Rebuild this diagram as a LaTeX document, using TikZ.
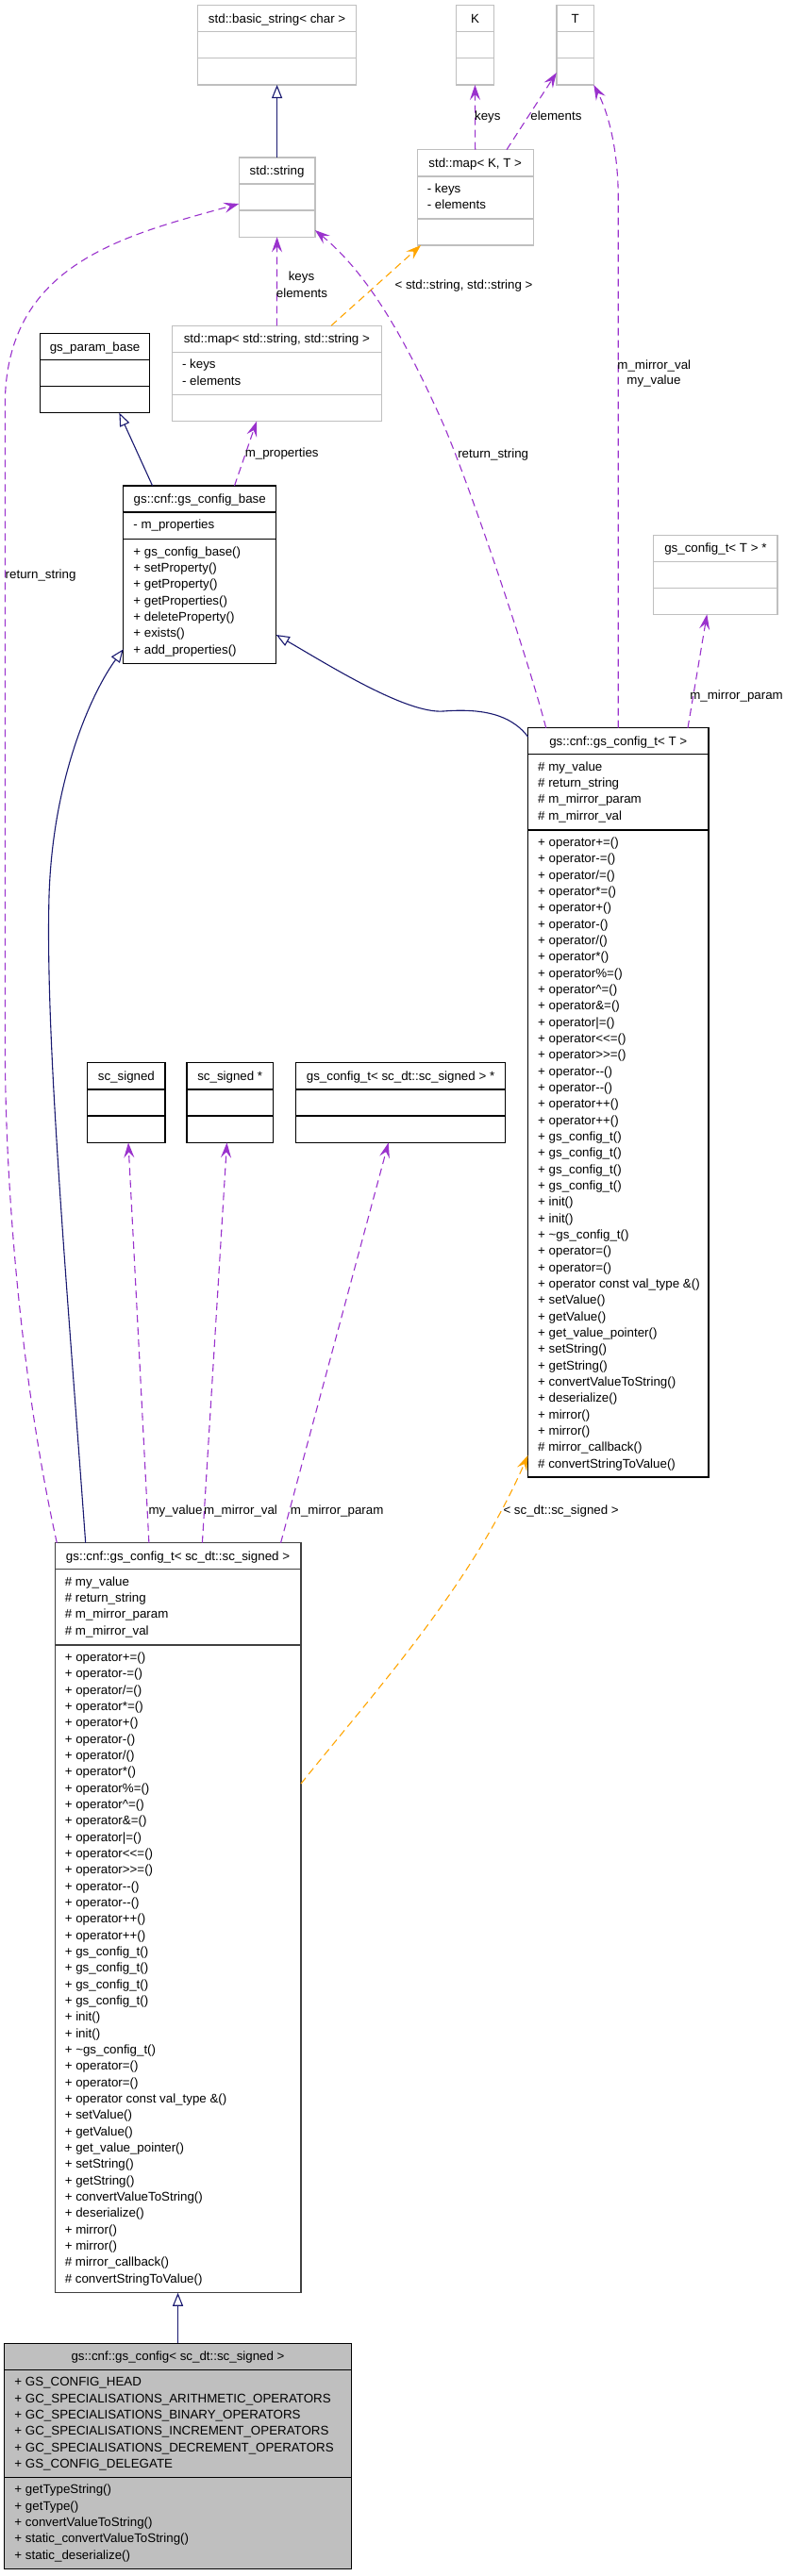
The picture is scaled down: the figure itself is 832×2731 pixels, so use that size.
\documentclass[tikz,border=0pt]{standalone}
\usepackage{fontspec}
\setmainfont{Liberation Sans}
\usetikzlibrary{arrows.meta}
\definecolor{g75}{HTML}{BFBFBF}
\definecolor{navy}{HTML}{191970}
\definecolor{orch}{HTML}{9A32CD}
\definecolor{org}{HTML}{FFA500}
\definecolor{dgray}{HTML}{404040}
\newcommand\rows[4]{\foreach \t [count=\i from 0] in #4 {\node[txt] (#1\i) at (#2,{#3+\i*17.33+4.6}) {\t};}}
\newcommand\divs[4]{\foreach \yy in {#4} {\draw[#1, line width=1.2pt] (#2,\yy) -- ++(#3,0);}}
\def\opsl{{+ operator+=()},{+ operator-=()},{+ operator/=()},{+ operator*=()},{+ operator+()},{+ operator-()},{+ operator/()},{+ operator*()},{+ operator\%=()},{+ operator\textasciicircum=()},{+ operator\&=()},{+ operator|=()},{+ operator<{}<=()},{+ operator>{}>=()},{+ operator-{}-()},{+ operator-{}-()},{+ operator++()},{+ operator++()},{+ gs\_config\_t()},{+ gs\_config\_t()},{+ gs\_config\_t()},{+ gs\_config\_t()},{+ init()},{+ init()},{+ \textasciitilde gs\_config\_t()},{+ operator=()},{+ operator=()},{+ operator const val\_type \&()},{+ setValue()},{+ getValue()},{+ get\_value\_pointer()},{+ setString()},{+ getString()},{+ convertValueToString()},{+ deserialize()},{+ mirror()},{+ mirror()},{\# mirror\_callback()},{\# convertStringToValue()}}
\def\gattr{{\# my\_value},{\# return\_string},{\# m\_mirror\_param},{\# m\_mirror\_val}}
\def\cbm{{+ gs\_config\_base()},{+ setProperty()},{+ getProperty()},{+ getProperties()},{+ deleteProperty()},{+ exists()},{+ add\_properties()}}
\def\cba{{- m\_properties}}
\def\gcsa{{+ GS\_CONFIG\_HEAD},{+ GC\_SPECIALISATIONS\_ARITHMETIC\_OPERATORS},{+ GC\_SPECIALISATIONS\_BINARY\_OPERATORS},{+ GC\_SPECIALISATIONS\_INCREMENT\_OPERATORS},{+ GC\_SPECIALISATIONS\_DECREMENT\_OPERATORS},{+ GS\_CONFIG\_DELEGATE}}
\def\gcsm{{+ getTypeString()},{+ getType()},{+ convertValueToString()},{+ static\_convertValueToString()},{+ static\_deserialize()}}
\def\mapa{{- keys},{- elements}}
\begin{document}
\begin{tikzpicture}[x=1pt,y=-1pt,
 font=\fontsize{13.33}{16}\selectfont,
 box/.style={draw, line width=1.2pt, anchor=north west, inner sep=0pt, outer sep=0pt, fill=white},
 boxg/.style={box, draw=g75},
 boxb/.style={box, draw=black},
 boxd/.style={box, draw=dgray},
 boxs/.style={box, draw=black, fill=g75},
 txt/.style={anchor=base west, inner sep=0pt},
 ttl/.style={anchor=base, inner sep=0pt},
 lbl/.style={anchor=base, inner sep=0pt},
 lblw/.style={anchor=base west, inner sep=0pt},
 inh/.style={draw=navy, line width=1.1pt, -{Triangle[open, length=14pt, width=11pt, line width=1.1pt]}},
 use/.style={draw=orch, line width=1.1pt, dash pattern=on 8pt off 5pt, -{Stealth[length=16pt, width=11pt, inset=6pt]}},
 tmpl/.style={draw=org, line width=1.1pt, dash pattern=on 8pt off 5pt, -{Stealth[length=16pt, width=11pt, inset=6pt]}}
]
\useasboundingbox[fill=white] (0,0) rectangle (832,2731);

% boxes
\node[boxg, minimum width=168pt, minimum height=84.3pt] (bstr) at (209.6,5.7) {};
\divs{g75}{209.6}{168}{33.7,61.7}
\node[ttl] (bstrT) at (293.6,24.3) {std::basic\_string< char >};

\node[boxg, minimum width=39.5pt, minimum height=84.3pt] (K) at (483.7,5.7) {};
\divs{g75}{483.7}{39.5}{33.7,61.7}
\node[ttl] (KT) at (503.45,24.3) {K};

\node[boxg, minimum width=39.4pt, minimum height=84.3pt] (T) at (589.9,5.7) {};
\divs{g75}{589.9}{39.4}{33.7,61.7}
\node[ttl] (TT) at (609.6,24.3) {T};

\node[boxg, minimum width=80.6pt, minimum height=84.3pt] (str) at (253.3,167) {};
\divs{g75}{253.3}{80.6}{195,223}
\node[ttl] (strT) at (293.6,185.6) {std::string};

\node[boxg, minimum width=123.2pt, minimum height=101.3pt] (mapKT) at (442.1,158.7) {};
\divs{g75}{442.1}{123.2}{187,232}
\node[ttl] (mapKTT) at (503.7,177.45) {std::map< K, T >};
\rows{mapKTa}{452.6}{200}{\mapa}

\node[boxg, minimum width=221.9pt, minimum height=101.4pt] (mapSS) at (182.4,345.3) {};
\divs{g75}{182.4}{221.9}{373.3,418.3}
\node[ttl] (mapSST) at (293.35,363.9) {std::map< std::string, std::string >};
\rows{mapSSa}{192.9}{386.3}{\mapa}

\node[boxb, minimum width=115.7pt, minimum height=84pt] (parambase) at (42.7,353.7) {};
\divs{black}{42.7}{115.7}{381.7,409.7}
\node[ttl] (parambaseT) at (100.55,372.3) {gs\_param\_base};

\node[boxb, minimum width=162.1pt, minimum height=188.3pt] (cbase) at (130.7,515) {};
\divs{black}{130.7}{162.1}{543,571.5}
\node[ttl] (cbaseT) at (211.75,533.6) {gs::cnf::gs\_config\_base};
\rows{cbasea}{141.2}{556}{\cba}
\rows{cbasem}{141.2}{584.5}{\cbm}

\node[boxg, minimum width=131.2pt, minimum height=84pt] (gctTp) at (692.8,567.3) {};
\divs{g75}{692.8}{131.2}{595.3,623.3}
\node[ttl] (gctTpT) at (758.4,585.9) {gs\_config\_t< T > *};

\node[boxb, minimum width=191.5pt, minimum height=794.3pt] (gctT) at (559.5,771.7) {};
\divs{black}{559.5}{191.5}{799.7,880}
\node[ttl] (gctTT) at (655.25,790.3) {gs::cnf::gs\_config\_t< T >};
\rows{gctTa}{570}{812.7}{\gattr}
\rows{gctTm}{570}{893}{\opsl}

\node[boxb, minimum width=82.2pt, minimum height=84.6pt] (scs) at (92.8,1126.8) {};
\divs{black}{92.8}{82.2}{1155,1183}
\node[ttl] (scsT) at (133.9,1145.6) {sc\_signed};

\node[boxb, minimum width=91.7pt, minimum height=84.6pt] (scsp) at (197.9,1126.8) {};
\divs{black}{197.9}{91.7}{1155,1183}
\node[ttl] (scspT) at (243.75,1145.6) {sc\_signed *};

\node[boxb, minimum width=221.9pt, minimum height=84.6pt] (gctsp) at (313.6,1126.8) {};
\divs{black}{313.6}{221.9}{1155,1183}
\node[ttl] (gctspT) at (424.55,1145.6) {gs\_config\_t< sc\_dt::sc\_signed > *};

\node[boxd, minimum width=260.9pt, minimum height=795.1pt] (gcts) at (58.1,1635.7) {};
\divs{dgray}{58.1}{260.9}{1663.7,1744}
\node[ttl] (gctsT) at (188.55,1654.3) {gs::cnf::gs\_config\_t< sc\_dt::sc\_signed >};
\rows{gctsa}{68.6}{1676.7}{\gattr}
\rows{gctsm}{68.6}{1757}{\opsl}

\node[boxs, minimum width=367.5pt, minimum height=239.4pt] (gcs) at (4.8,2484.3) {};
\divs{black}{4.8}{367.5}{2512.3,2626.3}
\node[ttl] (gcsT) at (188.55,2502.6) {gs::cnf::gs\_config< sc\_dt::sc\_signed >};
\rows{gcsa}{15.3}{2525.3}{\gcsa}
\rows{gcsm}{15.3}{2639.3}{\gcsm}

% connectors
\draw[inh] (str.north) -- (bstr.south);
\draw[use] (mapKT.north) -- (K.south);
\draw[use] ([xshift=33.3pt]mapKT.north) -- ([yshift=13pt]T.south west);
\draw[use] (mapSS.north) -- (str.south);
\draw[tmpl] ([xshift=57.65pt]mapSS.north) -- ([xshift=3.9pt]mapKT.south west);
\draw[inh] ([xshift=-50.15pt]cbase.north) -- ([xshift=25.85pt]parambase.south);
\draw[use] ([xshift=36.75pt]cbase.north) -- ([xshift=-21.35pt]mapSS.south);
\draw[inh] ([yshift=-9.3pt]gctT.north west) .. controls (545,762) and (520,750) .. (470,754) .. controls (430,757) and (345,703) .. ([yshift=30.3pt]cbase.south east);
\draw[use] ([xshift=-76.55pt]gctT.north) .. controls (560,700) and (500,520) .. (470,450) .. controls (430,360) and (390,290) .. ([yshift=7.3pt]str.south east);
\draw[use] (gctT.north) -- (655.25,210) .. controls (655.25,160) and (645,120) .. (T.south east);
\draw[use] ([xshift=73.75pt]gctT.north) -- ([xshift=-9.1pt]gctTp.south);
\draw[inh] ([xshift=32.6pt]gcts.north west) .. controls (70,1350) and (48,1100) .. (52,950) .. controls (56,820) and (100,730) .. ([yshift=15pt]cbase.south west);
\draw[use] ([xshift=2.2pt]gcts.north west) .. controls (30,1500) and (5.3,1300) .. (5.3,1100) -- (5.3,430) .. controls (5.3,280) and (130,250) .. ([yshift=-6.85pt]str.west);
\draw[use] ([xshift=-30.65pt]gcts.north) -- ([xshift=2.1pt]scs.south);
\draw[use] ([xshift=25.85pt]gcts.north) -- ([xshift=-3.25pt]scsp.south);
\draw[use] ([xshift=109pt]gcts.north) -- ([xshift=-12.85pt]gctsp.south);
\draw[tmpl] ([yshift=-255.3pt]gcts.north east) .. controls (400,1790) and (500,1680) .. ([yshift=23.1pt]gctT.south west);
\draw[inh] (gcs.north) -- (gcts.south);

% labels
\node[lbl] (l1) at (516.8,127.6) {keys};
\node[lbl] (l2) at (589.4,127.6) {elements};
\node[lbl] (l3) at (319.5,297.6) {keys};
\node[lbl] (l4) at (320,315.6) {elements};
\node[lbl] (l5) at (491.5,306.6) {< std::string, std::string >};
\node[lbl] (l6) at (298.7,484.9) {m\_properties};
\node[lbl] (l7) at (522.7,485.3) {return\_string};
\node[lbl] (l8) at (693.3,391.3) {m\_mirror\_val};
\node[lbl] (l9) at (693,407.9) {my\_value};
\node[anchor=base east, inner sep=0pt] (l10) at (830,741.3) {m\_mirror\_param};
\node[lblw] (l11) at (5.5,613.6) {return\_string};
\node[lblw] (l12) at (157.3,1605.3) {my\_value};
\node[lblw] (l13) at (216,1605.3) {m\_mirror\_val};
\node[lblw] (l14) at (307.7,1605.3) {m\_mirror\_param};
\node[lblw] (l15) at (533.3,1605.3) {< sc\_dt::sc\_signed >};
\end{tikzpicture}
\end{document}
